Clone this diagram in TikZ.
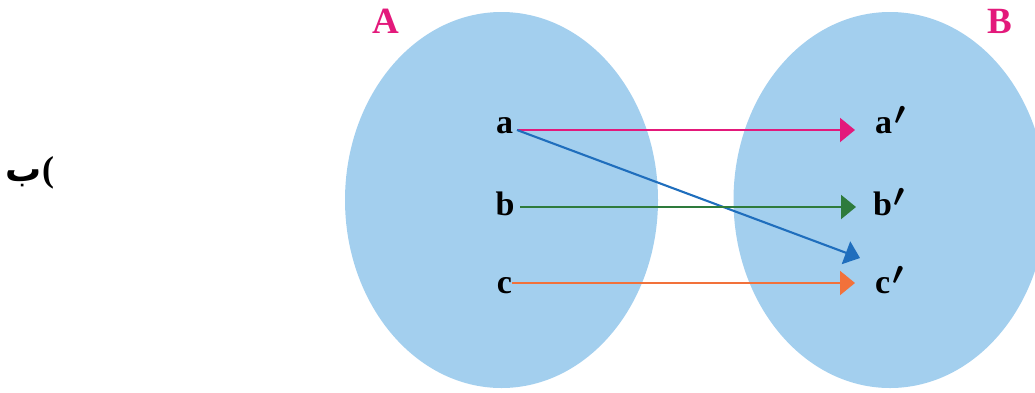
\documentclass[tikz,border=0pt]{standalone}
\usepackage{fontspec}
\setmainfont{Liberation Serif}
\newfontfamily\arabicfont[Script=Arabic]{DejaVu Sans}
\usetikzlibrary{arrows.meta,shapes.geometric}
\definecolor{setfill}{HTML}{A3CFEE}
\definecolor{mypink}{HTML}{E3197B}
\definecolor{mygreen}{HTML}{2E7B3C}
\definecolor{myblue}{HTML}{1F6EBD}
\definecolor{myorange}{HTML}{F2713A}
\newcommand{\myprime}{\kern2pt\raisebox{9pt}{\scalebox{1.3}{\boldmath$\prime$}}}
\tikzset{
  setshape/.style={ellipse, fill=setfill, draw=none, inner sep=0pt, outer sep=0pt,
    minimum width=313pt, minimum height=376pt},
  elem/.style={inner sep=0pt, outer sep=0pt, font=\fontsize{34}{40}\selectfont\bfseries},
  setlabel/.style={inner sep=0pt, outer sep=0pt, text=mypink, font=\fontsize{37}{44}\selectfont\bfseries},
  maparrow/.style={line width=2.1pt, -{Triangle[length=15pt,width=24pt]}},
}
\begin{document}
\begin{tikzpicture}[x=1pt,y=-1pt]
\useasboundingbox (0,0) rectangle (1035,392);
\node[setshape] (setA) at (501.5,200) {};
\node[setshape] (setB) at (890,200) {};
\node[setlabel, anchor=base] (labA) at (386,33) {A};
\node[setlabel, anchor=base] (labB) at (999.5,33) {B};
\node[inner sep=0pt, font=\fontsize{36}{42}\selectfont\bfseries] (part) at (30,173) {{\arabicfont ب}(};
\node[elem, anchor=base] (a) at (504.5,133) {a};
\node[elem, anchor=base] (b) at (505,215) {b};
\node[elem, anchor=base] (c) at (504.5,293) {c};
\node[elem, anchor=base west] (a2) at (875,133) {a\myprime};
\node[elem, anchor=base west] (b2) at (873,215) {b\myprime};
\node[elem, anchor=base west] (c2) at (875,293) {c\myprime};
\draw[maparrow, mypink] ([xshift=4pt,yshift=3pt]a.base east) -- ([xshift=-20pt,yshift=3pt]a2.base west);
\draw[maparrow, myblue] ([xshift=4pt,yshift=3pt]a.base east) -- ([xshift=-15pt,yshift=35pt]c2.base west);
\draw[maparrow, mygreen] ([xshift=5.5pt,yshift=8pt]b.base east) -- ([xshift=-17pt,yshift=8pt]b2.base west);
\draw[maparrow, myorange] ([xshift=0pt,yshift=10pt]c.base east) -- ([xshift=-20pt,yshift=10pt]c2.base west);
\end{tikzpicture}
\end{document}
